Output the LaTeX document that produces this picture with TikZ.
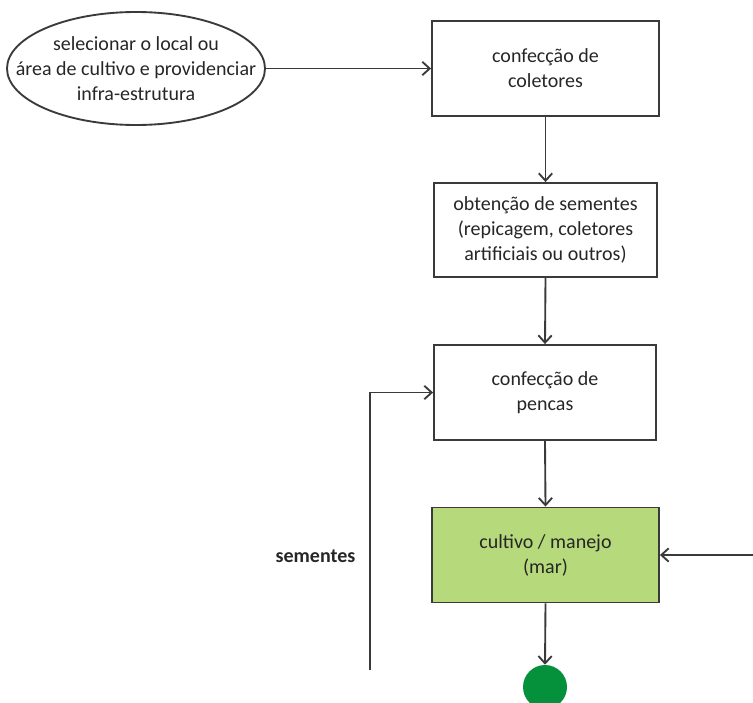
\documentclass[tikz,border=0pt]{standalone}
\usepackage{fontspec}
\setmainfont{Carlito}
\usetikzlibrary{shapes.geometric,arrows.meta}
\definecolor{lnc}{HTML}{3A3A3A}
\definecolor{lightg}{HTML}{B5D97B}
\definecolor{darkg}{HTML}{05913C}
\begin{document}
\begin{tikzpicture}[x=0.75pt,y=-0.75pt,
  every node/.style={font=\fontsize{15pt}{18.75pt}\selectfont, text=black!85, align=center},
  stepbox/.style={draw=lnc, line width=1.4pt, rectangle, inner sep=0pt},
  conn/.style={draw=lnc, line width=1.4pt, -{Straight Barb[length=5.5pt,width=10pt,line width=1.4pt]}},
  ]
\useasboundingbox (0,0) rectangle (753,703);
\node[draw=lnc, line width=1.4pt, ellipse, inner sep=0pt, minimum width=193.5pt, minimum height=84.75pt] (ell) at (136,68.5) {};
\node (ellt) at (ell.center) {selecionar o local ou\\área de cultivo e providenciar\\infra-estrutura};
\node[stepbox, minimum width=170.25pt, minimum height=71.25pt] (b1) at (545.5,68.5) {confecção de\\coletores};
\node[stepbox, minimum width=167.25pt, minimum height=70.5pt] (b2) at (545.5,230) {obtenção de sementes\\(repicagem, coletores\\artificiais ou outros)};
\node[stepbox, minimum width=166.5pt, minimum height=71.25pt] (b3) at (545,392.5) {confecção de\\pencas};
\node[stepbox, fill=lightg, minimum width=170.25pt, minimum height=71.25pt] (g) at (545.5,555) {cultivo / manejo\\(mar)};
\node[circle, fill=darkg, inner sep=0pt, minimum size=33pt] (c) at (545,687) {};
\node[font=\fontsize{15pt}{18.75pt}\selectfont\bfseries] (sem) at (315.5,556) {sementes};
\coordinate (rin) at (753,555);
\coordinate (lb) at (370,670);
\draw[conn] (ell.east) -- (b1.west);
\draw[conn] (b1.south) -- (b2.north);
\draw[conn] (b2.south) -- (b3.north);
\draw[conn] (b3.south) -- (g.north);
\draw[conn] (g.south) -- (c.north);
\draw[conn] (rin) -- (g.east);
\draw[conn] (lb) |- (b3.west);
\end{tikzpicture}
\end{document}
